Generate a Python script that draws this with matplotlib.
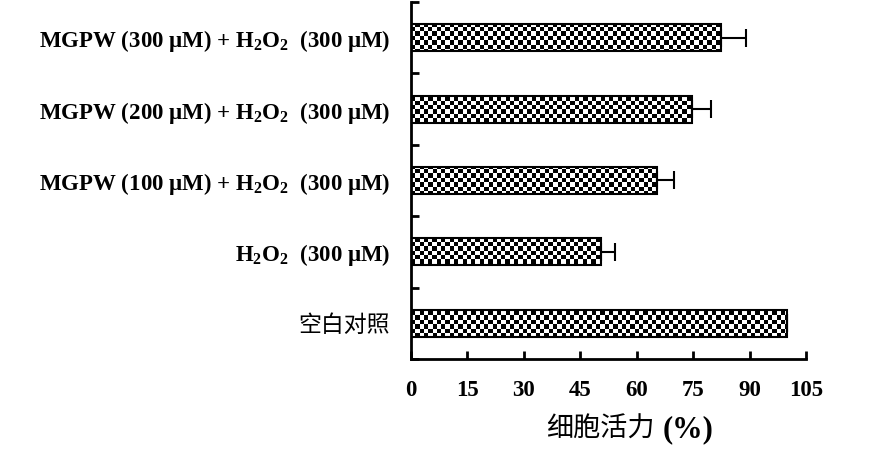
import matplotlib
matplotlib.use('Agg')
import matplotlib.pyplot as plt
import numpy as np

plt.rcParams['mathtext.fontset'] = 'custom'
plt.rcParams['mathtext.bf'] = 'Liberation Serif:bold'
plt.rcParams['mathtext.rm'] = 'Liberation Serif:bold'

# Datos (de abajo hacia arriba)
groups = ['空白对照',
          r'$\mathbf{H_2O_2}$  (300 μM)',
          r'MGPW (100 μM) + $\mathbf{H_2O_2}$  (300 μM)',
          r'MGPW (200 μM) + $\mathbf{H_2O_2}$  (300 μM)',
          r'MGPW (300 μM) + $\mathbf{H_2O_2}$  (300 μM)']
viability = [100.0, 50.5, 65.4, 74.7, 82.4]
errors = [0.0, 3.8, 4.6, 5.1, 6.7]
xticks = [0, 15, 30, 45, 60, 75, 90, 105]

fig = plt.figure(figsize=(8.9, 4.61), dpi=100)
ax = fig.add_axes([0.4618, 0.2213, 0.4438, 0.7744])

y = np.arange(len(groups))
bars = ax.barh(y, viability, height=0.38, facecolor='none', edgecolor='black',
               linewidth=1.5, zorder=3)
ax.errorbar(viability, y, xerr=[np.zeros(len(errors)), errors], fmt='none',
            ecolor='black', elinewidth=1.5, capsize=6.5, capthick=1.5, zorder=4)

ax.set_xlim(0, 105)
ax.set_ylim(-0.5, len(groups) - 0.5)

# Relleno de cuadritos (tablero de ajedrez) recortado a cada barra
nx, ny = 92, 83
checker = (np.indices((ny, nx)).sum(axis=0) % 2).astype(float)
for b in bars:
    im = ax.imshow(checker, cmap='gray', extent=[0, 105, -0.5, len(groups) - 0.5],
                   aspect='auto', interpolation='nearest', zorder=2)
    im.set_clip_path(b)

ax.set_xticks(xticks)
ax.set_xticklabels([str(t) for t in xticks], fontfamily='Liberation Serif',
                   fontweight='bold', fontsize=16.5)
ax.set_yticks(y)
ax.set_yticklabels(groups, fontfamily=['Liberation Serif', 'Noto Sans CJK SC'],
                   fontweight='bold', fontsize=16.5)
lab0 = ax.get_yticklabels()[0]
lab0.set_fontweight('normal')
lab0.set_fontfamily('Noto Sans CJK SC')
lab0.set_fontsize(16.5)
ax.set_yticks(np.arange(-0.5, len(groups), 1.0), minor=True)
ax.tick_params(axis='y', which='major', length=0, pad=15)
ax.tick_params(axis='y', which='minor', direction='in', length=6, width=2)
ax.tick_params(axis='x', direction='in', length=6, width=2, pad=15)

for s in ['top', 'right']:
    ax.spines[s].set_visible(False)
for s in ['left', 'bottom']:
    ax.spines[s].set_linewidth(2)

fig.text(0.735, 0.052, '细胞活力', fontfamily='Noto Sans CJK SC', fontsize=19.5,
         ha='right', va='baseline')
fig.text(0.744, 0.052, '(%)', fontfamily='Liberation Serif', fontweight='bold',
         fontsize=22, ha='left', va='baseline')

fig.savefig('out.png', dpi=100)
